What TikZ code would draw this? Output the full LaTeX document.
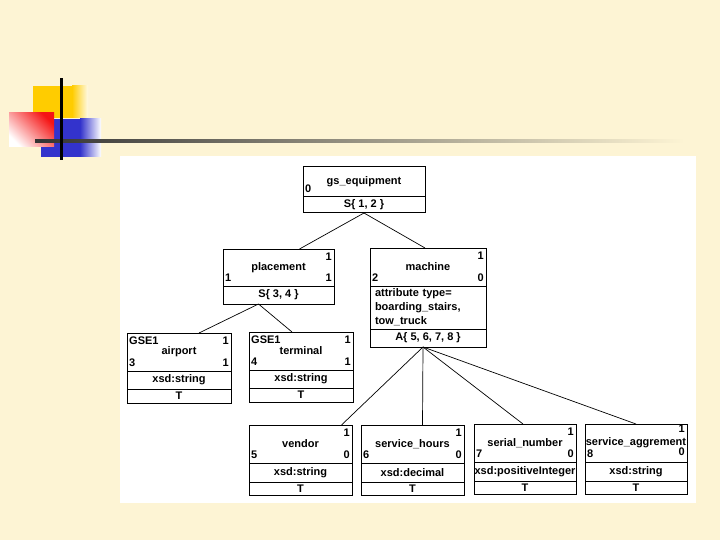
\documentclass[tikz,border=0pt]{standalone}
\usepackage{fontspec}
\setmainfont{Liberation Sans}
\usetikzlibrary{positioning}

\definecolor{slidebg}{RGB}{253,244,212}
\definecolor{decoyellow}{RGB}{255,204,0}
\definecolor{decored}{RGB}{245,20,20}
\definecolor{decoblue}{RGB}{51,51,204}

\begin{document}
\begin{tikzpicture}[
    x=1pt, y=-1pt,
    part/.style={rectangle, draw=black, line width=1pt, fill=white, outer sep=0pt, inner sep=0pt, font=\fontsize{11}{14}\selectfont\bfseries},
    num/.style={inner xsep=2pt, inner ysep=4pt, font=\fontsize{11}{14}\selectfont\bfseries},
    link/.style={draw, line width=0.7pt}
]

% Slide background and corner decoration
\fill[slidebg] (0,0) rectangle (720,540);
\fill[decoyellow] (33,86) rectangle (72,118);
\shade[left color=decoyellow, right color=decoyellow!10!white] (72,86) rectangle (88,118);
\fill[decoblue] (41,119) rectangle (80,157);
\shade[left color=decoblue, right color=white] (80,119) rectangle (101,157);
\shade[top color=decored, bottom color=white, shading angle=-45] (9,113) rectangle (54,147);
\shade[left color=black!80, right color=slidebg] (35,139.5) rectangle (684,142.5);
\fill[black] (60,78) rectangle (62.5,160);
\fill[white] (120,156) rectangle (696,503);

% Root
\node[part, minimum width=122pt, minimum height=30pt, anchor=north west] (gs) at (303,167) {gs\_equipment};
\node[part, minimum width=122pt, minimum height=16pt, below=0pt of gs] (gs-set) {S\{ 1, 2 \}};
\node[num, anchor=south west] (gs-id) at (gs.south west) {0};

% Second level
\node[part, minimum width=111pt, minimum height=37pt, anchor=north west] (placement) at (223,249) {placement};
\node[part, minimum width=111pt, minimum height=18pt, below=0pt of placement] (placement-set) {S\{ 3, 4 \}};
\node[num, anchor=north east] (placement-max) at (placement.north east) {1};
\node[num, anchor=south east] (placement-min) at (placement.south east) {1};
\node[num, anchor=south west] (placement-id) at (placement.south west) {1};

\node[part, minimum width=116pt, minimum height=38pt, anchor=north west] (machine) at (370,248) {machine};
\node[part, minimum width=116pt, minimum height=43pt, below=0pt of machine, text width=106pt, inner xsep=5pt, align=left] (machine-attr) {attribute type=\\boarding\_stairs,\\tow\_truck};
\node[part, minimum width=116pt, minimum height=18pt, below=0pt of machine-attr] (machine-set) {A\{ 5, 6, 7, 8 \}};
\node[num, anchor=north east] (machine-max) at (machine.north east) {1};
\node[num, anchor=south east] (machine-min) at (machine.south east) {0};
\node[num, anchor=south west] (machine-id) at (machine.south west) {2};

% Children of placement
\node[part, minimum width=104pt, minimum height=38pt, anchor=north west] (airport) at (127,333) {airport};
\node[part, minimum width=104pt, minimum height=18pt, below=0pt of airport] (airport-type) {xsd:string};
\node[part, minimum width=104pt, minimum height=14pt, below=0pt of airport-type] (airport-val) {T};
\node[num, anchor=north west] (airport-gse) at (airport.north west) {GSE1};
\node[num, anchor=north east] (airport-max) at (airport.north east) {1};
\node[num, anchor=south east] (airport-min) at (airport.south east) {1};
\node[num, anchor=south west] (airport-id) at (airport.south west) {3};

\node[part, minimum width=104pt, minimum height=38pt, anchor=north west] (terminal) at (249,332) {terminal};
\node[part, minimum width=104pt, minimum height=18pt, below=0pt of terminal] (terminal-type) {xsd:string};
\node[part, minimum width=104pt, minimum height=14pt, below=0pt of terminal-type] (terminal-val) {T};
\node[num, anchor=north west] (terminal-gse) at (terminal.north west) {GSE1};
\node[num, anchor=north east] (terminal-max) at (terminal.north east) {1};
\node[num, anchor=south east] (terminal-min) at (terminal.south east) {1};
\node[num, anchor=south west] (terminal-id) at (terminal.south west) {4};

% Children of machine
\node[part, minimum width=103pt, minimum height=38pt, anchor=north west] (vendor) at (249,425) {vendor};
\node[part, minimum width=103pt, minimum height=19pt, below=0pt of vendor] (vendor-type) {xsd:string};
\node[part, minimum width=103pt, minimum height=13pt, below=0pt of vendor-type] (vendor-val) {T};
\node[num, anchor=north east] (vendor-max) at (vendor.north east) {1};
\node[num, anchor=south east] (vendor-min) at (vendor.south east) {0};
\node[num, anchor=south west] (vendor-id) at (vendor.south west) {5};

\node[part, minimum width=103pt, minimum height=38pt, anchor=north west] (hours) at (361,425) {service\_hours};
\node[part, minimum width=103pt, minimum height=19pt, below=0pt of hours] (hours-type) {xsd:decimal};
\node[part, minimum width=103pt, minimum height=13pt, below=0pt of hours-type] (hours-val) {T};
\node[num, anchor=north east] (hours-max) at (hours.north east) {1};
\node[num, anchor=south east] (hours-min) at (hours.south east) {0};
\node[num, anchor=south west] (hours-id) at (hours.south west) {6};

\node[part, minimum width=102pt, minimum height=38pt, anchor=north west] (serial) at (474,424) {serial\_number};
\node[part, minimum width=102pt, minimum height=19pt, below=0pt of serial] (serial-type) {xsd:positiveInteger};
\node[part, minimum width=102pt, minimum height=13pt, below=0pt of serial-type] (serial-val) {T};
\node[num, anchor=north east] (serial-max) at (serial.north east) {1};
\node[num, anchor=south east] (serial-min) at (serial.south east) {0};
\node[num, anchor=south west] (serial-id) at (serial.south west) {7};

\node[part, minimum width=102pt, minimum height=38pt, anchor=north west] (aggrement) at (585,424) {service\_aggrement};
\node[part, minimum width=102pt, minimum height=19pt, below=0pt of aggrement] (aggrement-type) {xsd:string};
\node[part, minimum width=102pt, minimum height=13pt, below=0pt of aggrement-type] (aggrement-val) {T};
\node[num, anchor=north east, inner ysep=1pt] (aggrement-max) at (aggrement.north east) {1};
\node[num, anchor=south east, inner ysep=6pt] (aggrement-min) at (aggrement.south east) {0};
\node[num, anchor=south west] (aggrement-id) at (aggrement.south west) {8};

% Tree edges
\draw[link] (gs-set.south) -- ([xshift=21pt]placement.north);
\draw[link] (gs-set.south) -- ([xshift=-3pt]machine.north);
\draw[link] ([xshift=-20pt]placement-set.south) -- ([xshift=20pt]airport.north);
\draw[link] ([xshift=-20pt]placement-set.south) -- ([xshift=-9pt]terminal.north);
\draw[link] ([xshift=-5pt]machine-set.south) -- ([xshift=41pt]vendor.north);
\draw[link] ([xshift=-5pt]machine-set.south) -- ([xshift=10pt]hours.north);
\draw[link] ([xshift=-5pt]machine-set.south) -- ([xshift=-2pt]serial.north);
\draw[link] ([xshift=-5pt]machine-set.south) -- (aggrement.north);

\end{tikzpicture}
\end{document}
